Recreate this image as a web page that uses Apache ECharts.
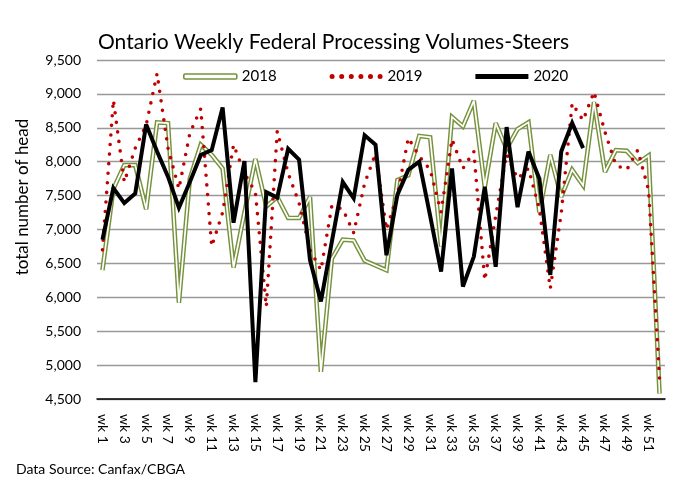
<!DOCTYPE html>
<html>
<head>
<meta charset="utf-8">
<script src="https://cdn.jsdelivr.net/npm/echarts@6/dist/echarts.min.js"></script>
<style>
  html, body { margin: 0; padding: 0; background: #fff; }
  #main { width: 684px; height: 481px; }
</style>
</head>
<body>
<div id="main"></div>
<script>
// weekly steer kills
var weeks = [];
for (var i = 1; i <= 52; i++) weeks.push('wk ' + i);

var y2018 = [6400, 7600, 7950, 7950, 7300, 8580, 8570, 5920, 7750, 8250,
             8100, 7900, 6440, 7250, 8040, 7340, 7480, 7170, 7170, 7480,
             4900, 6570, 6850, 6840, 6540, 6470, 6400, 7730, 7800, 8380,
             8360, 6750, 8660, 8520, 8900, 7630, 8570, 8190, 8480, 8580,
             7250, 8100, 7480, 7880, 7650, 8880, 7850, 8170, 8160, 7980,
             8090, 4580];
var y2019 = [6700, 8910, 7700, 8200, 8540, 9300, 8200, 7600, 8420, 8780,
             6750, 7250, 8250, 7830, 7550, 5860, 8450, 7830, 7390, 6700,
             6400, 7350, 7300, 6950, 7680, 8120, 7000, 7510, 8350, 8080,
             7880, 7260, 8330, 7900, 8150, 6250, 7200, 8110, 7750, 7900,
             7300, 6130, 7240, 8860, 8610, 9030, 8440, 7950, 7880, 8170,
             7580, 4800];
var y2020 = [6850, 7610, 7390, 7530, 8550, 8150, 7780, 7320, 7700, 8100,
             8170, 8800, 7100, 8010, 4750, 7550, 7470, 8190, 8030, 6550,
             5940, 6820, 7700, 7460, 8390, 8250, 6620, 7510, 7880, 8000,
             7200, 6380, 7900, 6160, 6600, 7630, 6450, 8510, 7330, 8150,
             7750, 6330, 8150, 8570, 8200];
var yTicks = { min: 4500, max: 9500, step: 500 };

var olive = '#76923C', red = '#C00000';
var font = 'Lato';

var dotIcon = 'path://';
for (var d = 0; d < 6; d++) {
  var cx = 2.5 + d * 9.6;
  dotIcon += 'M' + (cx - 2.5) + ',2.5a2.5,2.5 0 1,0 5,0a2.5,2.5 0 1,0 -5,0z';
}

echarts.init(document.getElementById('main')).setOption({
  animation: false,
  textStyle: { fontFamily: font, color: '#000' },
  title: [{
    text: 'Ontario Weekly Federal Processing Volumes-Steers',
    left: 93, top: 27,
    textStyle: { fontFamily: font, fontSize: 21, fontWeight: 'normal', color: '#000' }
  }, {
    text: 'Data Source: Canfax/CBGA',
    left: 11, top: 457,
    textStyle: { fontFamily: font, fontSize: 14, fontWeight: 'normal', color: '#000' }
  }],
  legend: {
    left: 178, top: 64,
    itemWidth: 53, itemHeight: 5, itemGap: 53,
    textStyle: { fontFamily: font, fontSize: 15, color: '#000' },
    data: [
      { name: '2018', icon: 'roundRect', itemStyle: { color: '#fff', borderColor: olive, borderWidth: 1.6 } },
      { name: '2019', icon: dotIcon, itemStyle: { color: red } },
      { name: '2020', icon: 'rect', itemStyle: { color: '#000' } }
    ]
  },
  grid: { left: 97, right: 19, top: 60, bottom: 82 },
  xAxis: {
    type: 'category',
    data: weeks,
    boundaryGap: true,
    axisLine: { lineStyle: { color: '#000', width: 1.5 } },
    axisTick: { show: false },
    axisLabel: { rotate: -90, interval: 1, fontSize: 14, margin: 15, color: '#000', fontFamily: font }
  },
  yAxis: {
    type: 'value',
    min: yTicks.min, max: yTicks.max, interval: yTicks.step,
    name: 'total number of head',
    nameLocation: 'middle', nameGap: 66, nameRotate: 90,
    nameTextStyle: { fontSize: 17, color: '#000', fontFamily: font, padding: [0, 0, 0, 65] },
    axisLine: { show: false },
    axisTick: { show: false },
    axisLabel: {
      fontSize: 14, margin: 16, color: '#000', fontFamily: font,
      formatter: function (v) { return v.toString().replace(/\B(?=(\d{3})+(?!\d))/g, ','); }
    },
    splitLine: { lineStyle: { color: '#999', width: 1.3 } }
  },
  series: [{
    name: '2018', type: 'line', data: y2018, symbol: 'none', z: 2,
    lineStyle: { color: olive, width: 4.6, join: 'miter', miterLimit: 3 }, itemStyle: { color: olive }
  }, {
    name: '2018 core', type: 'line', data: y2018, symbol: 'none', z: 3, silent: true,
    lineStyle: { color: '#fff', width: 1.7, join: 'miter', miterLimit: 3 }
  }, {
    name: '2019', type: 'line', data: y2019, symbol: 'none', z: 4,
    lineStyle: { color: red, width: 3.6, type: [0, 9.6], cap: 'round' }, itemStyle: { color: red }
  }, {
    name: '2020', type: 'line', data: y2020, symbol: 'none', z: 5,
    lineStyle: { color: '#000', width: 4, join: 'miter', miterLimit: 3 }, itemStyle: { color: '#000' }
  }]
});
</script>
</body>
</html>
